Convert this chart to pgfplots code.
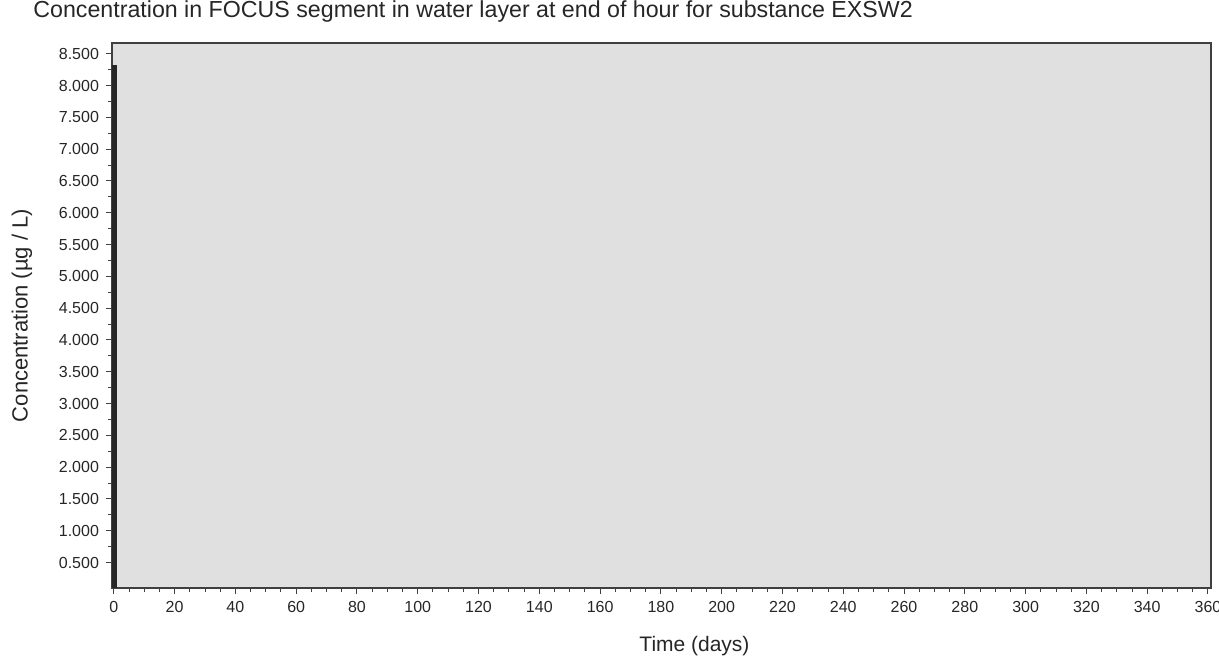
\documentclass[border=0pt]{standalone}
\usepackage{pgfplots}
\pgfplotsset{compat=1.18}
\usepackage{fontspec}
\setmainfont{Liberation Sans}
\definecolor{bgray}{HTML}{E0E0E0}
\definecolor{axgray}{HTML}{404040}
\begin{document}
\begin{tikzpicture}
\path[use as bounding box] (0pt,0pt) rectangle (609.5pt,331.5pt);
\begin{axis}[
  at={(56pt,37.5pt)}, anchor=south west,
  scale only axis,
  width=549.5pt, height=272.5pt,
  xmin=-0.6, xmax=361, ymin=0.1, ymax=8.67,
  axis background/.style={fill=bgray},
  axis line style={axgray, line width=0.9pt},
  xtick={0,20,...,360},
  ytick={0.5,1,...,8.5},
  xtick pos=bottom, ytick pos=left,
  minor x tick num=3,
  minor y tick num=1,
  tick align=outside,
  major tick length=3pt,
  minor tick length=1.8pt,
  tick style={axgray, line width=0.5pt},
  yticklabel style={/pgf/number format/.cd, fixed, fixed zerofill, precision=3, assume math mode=true},
  xticklabel style={/pgf/number format/assume math mode=true},
  ticklabel style={font=\fontsize{8}{9}\selectfont, text=black!85},
  xlabel={Time (days)},
  ylabel={Concentration (µg / L)},
  xlabel style={font=\fontsize{10.5}{12}\selectfont, text=black!85, at={(0.53,-0.075)}, anchor=north},
  ylabel style={font=\fontsize{11}{12}\selectfont, text=black!85, at={(-0.0819,0.5)}, anchor=center},
  title={Concentration in FOCUS segment in water layer at end of hour for substance EXSW2},
  title style={font=\fontsize{11.6}{13}\selectfont, text=black!85, inner sep=0pt, at={(-0.0719,1.035)}, anchor=west},
  clip=true,
]
\addplot[fill=black!85, draw=none] coordinates {(-0.6,0) (-0.6,8.33) (1.2,8.33) (1.2,0)} -- cycle;
\end{axis}
\end{tikzpicture}
\end{document}
